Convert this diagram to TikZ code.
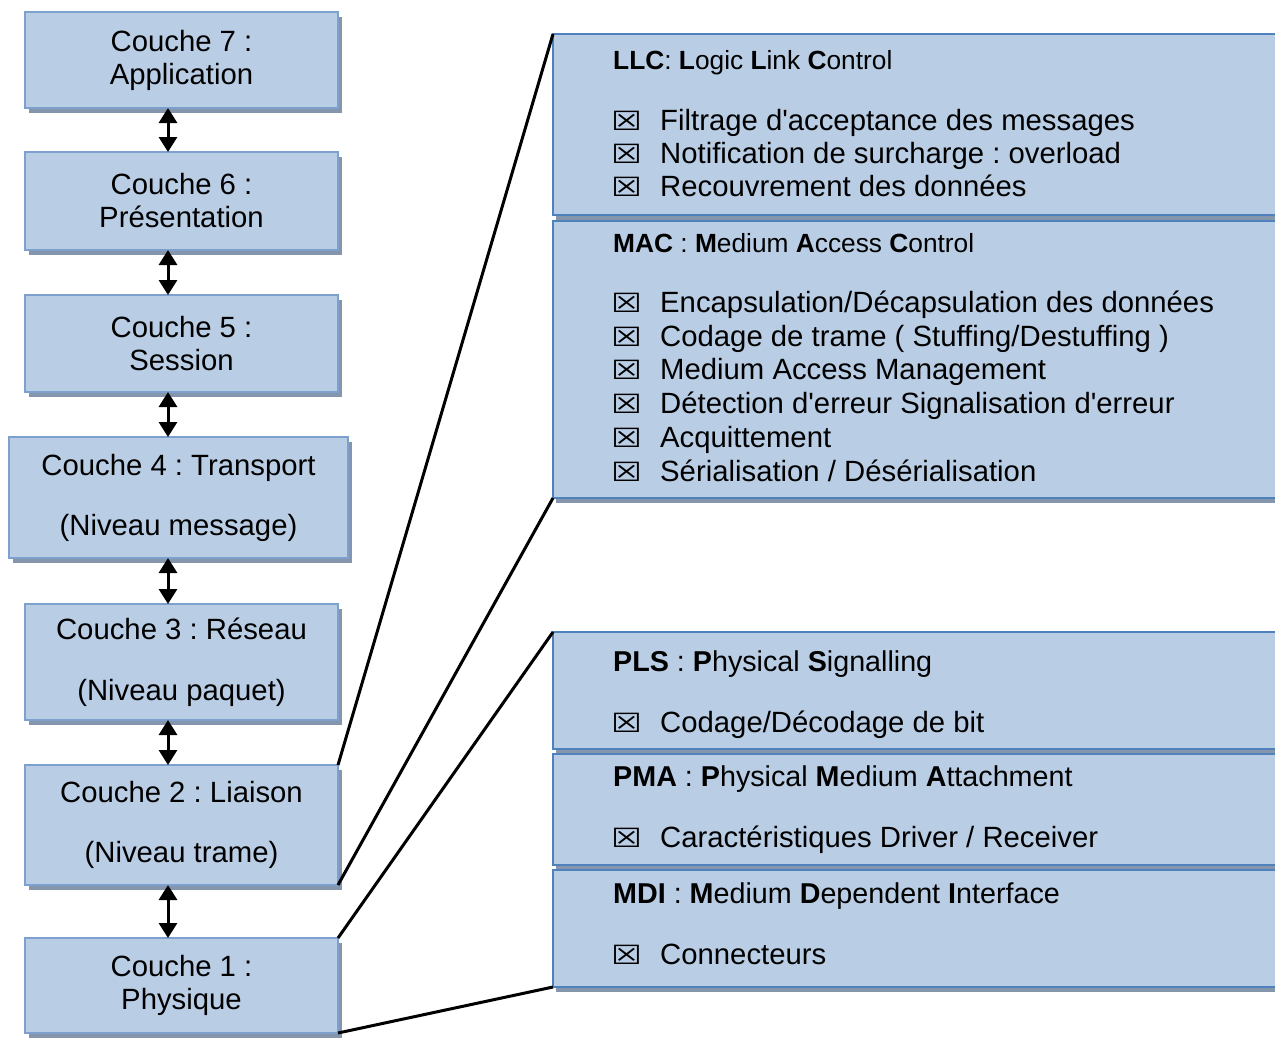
\documentclass[tikz,border=0pt]{standalone}
\usepackage{fontspec}
\setmainfont{Liberation Sans}
\newfontfamily\symfont{DejaVu Sans}
\usetikzlibrary{shadows,arrows.meta}
\definecolor{layerfill}{RGB}{185,205,229}
\definecolor{layeredge}{RGB}{126,160,206}
\definecolor{paneledge}{RGB}{79,129,189}
\definecolor{shadecol}{RGB}{133,150,172}
\frenchspacing
% check-box bullet followed by a fixed gap
\newcommand\chk{\makebox[47pt][l]{\hspace{-2pt}\scalebox{1.3}[1]{\symfont\fontsize{26.5}{26.5}\selectfont ☒}}}
\begin{document}
\begin{tikzpicture}[x=1pt,y=-1pt,
  layer/.style={rectangle, fill=layerfill, draw=layeredge, line width=2pt,
    outer sep=0pt, inner sep=0pt, align=center,
    font=\fontsize{29.3}{33}\selectfont,
    drop shadow={shadow xshift=4pt, shadow yshift=-5pt, fill=shadecol, opacity=1}},
  panel/.style={rectangle, fill=layerfill, draw=paneledge, line width=2pt,
    outer sep=0pt, anchor=north west, minimum width=780pt,
    drop shadow={shadow xshift=3pt, shadow yshift=-5pt, fill=shadecol, opacity=1}},
  hdr/.style={anchor=base west, inner sep=0pt, font=\fontsize{26.3}{30}\selectfont},
  hdrb/.style={anchor=base west, inner sep=0pt, font=\fontsize{28.7}{33}\selectfont},
  item/.style={anchor=base west, inner sep=0pt, font=\fontsize{29.3}{33}\selectfont},
  updown/.style={line width=3pt,
    {Triangle[length=15pt,width=18pt]}-{Triangle[length=15pt,width=18pt]}},
  link/.style={line width=3pt}]
\useasboundingbox (0,0) rectangle (1275,1037);
\clip (0,0) rectangle (1275,1037);

% OSI layer stack
\node[layer, minimum width=313pt, minimum height=96pt]  (b7) at (181.5,60)    {Couche 7 :\\Application};
\node[layer, minimum width=313pt, minimum height=98pt]  (b6) at (181.5,201)   {Couche 6 :\\Présentation};
\node[layer, minimum width=313pt, minimum height=97pt]  (b5) at (181.5,343.5) {Couche 5 :\\Session};
\node[layer, minimum width=339pt, minimum height=121pt] (b4) at (178.5,497.5) {Couche 4 : Transport\\[27pt](Niveau message)};
\node[layer, minimum width=313pt, minimum height=116pt] (b3) at (181.5,662)   {Couche 3 : Réseau\\[28pt](Niveau paquet)};
\node[layer, minimum width=313pt, minimum height=120pt] (b2) at (181.5,825)   {Couche 2 : Liaison\\[27pt](Niveau trame)};
\node[layer, minimum width=313pt, minimum height=95pt]  (b1) at (181.5,985.5) {Couche 1 :\\Physique};

\coordinate (ax) at (168,0);
\foreach \a/\b in {b7/b6,b6/b5,b5/b4,b4/b3,b3/b2,b2/b1}
  \draw[updown] (\a.south -| ax) -- (\b.north -| ax);

% data link sublayers
\node[panel, minimum height=181pt] (llc) at (553,34)  {};
\node[panel, minimum height=277pt] (mac) at (553,221) {};
% physical sublayers
\node[panel, minimum height=117pt] (pls) at (553,632) {};
\node[panel, minimum height=111pt] (pma) at (553,754) {};
\node[panel, minimum height=117pt] (mdi) at (553,870) {};

\node[hdr]  (llc-h) at (613,69)  {\textbf{LLC}: \textbf{L}ogic \textbf{L}ink \textbf{C}ontrol};
\node[item] (llc-1) at (613,130) {\chk Filtrage d\textquotesingle acceptance des messages};
\node[item] (llc-2) at (613,163) {\chk Notification de surcharge : overload};
\node[item] (llc-3) at (613,196) {\chk Recouvrement des données};

\node[hdr]  (mac-h) at (613,252) {\textbf{MAC} : \textbf{M}edium \textbf{A}ccess \textbf{C}ontrol};
\node[item] (mac-1) at (613,312) {\chk Encapsulation/Décapsulation des données};
\node[item] (mac-2) at (613,346) {\chk Codage de trame ( Stuffing/Destuffing )};
\node[item] (mac-3) at (613,379) {\chk Medium Access Management};
\node[item] (mac-4) at (613,413) {\chk Détection d\textquotesingle erreur Signalisation d\textquotesingle erreur};
\node[item] (mac-5) at (613,447) {\chk Acquittement};
\node[item] (mac-6) at (613,481) {\chk Sérialisation / Désérialisation};

\node[hdrb] (pls-h) at (613,671) {\textbf{PLS} : \textbf{P}hysical \textbf{S}ignalling};
\node[item] (pls-1) at (613,732) {\chk Codage/Décodage de bit};
\node[hdrb] (pma-h) at (613,786) {\textbf{PMA} : \textbf{P}hysical \textbf{M}edium \textbf{A}ttachment};
\node[item] (pma-1) at (613,847) {\chk Caractéristiques Driver / Receiver};
\node[hdrb] (mdi-h) at (613,903) {\textbf{MDI} : \textbf{M}edium \textbf{D}ependent \textbf{I}nterface};
\node[item] (mdi-1) at (613,964) {\chk Connecteurs};

% zoom lines from the layers to their sublayers
\draw[link] (b2.north east) -- (llc.north west);
\draw[link] (b2.south east) -- (mac.south west);
\draw[link] (b1.north east) -- (pls.north west);
\draw[link] (b1.south east) -- (mdi.south west);
\end{tikzpicture}
\end{document}
